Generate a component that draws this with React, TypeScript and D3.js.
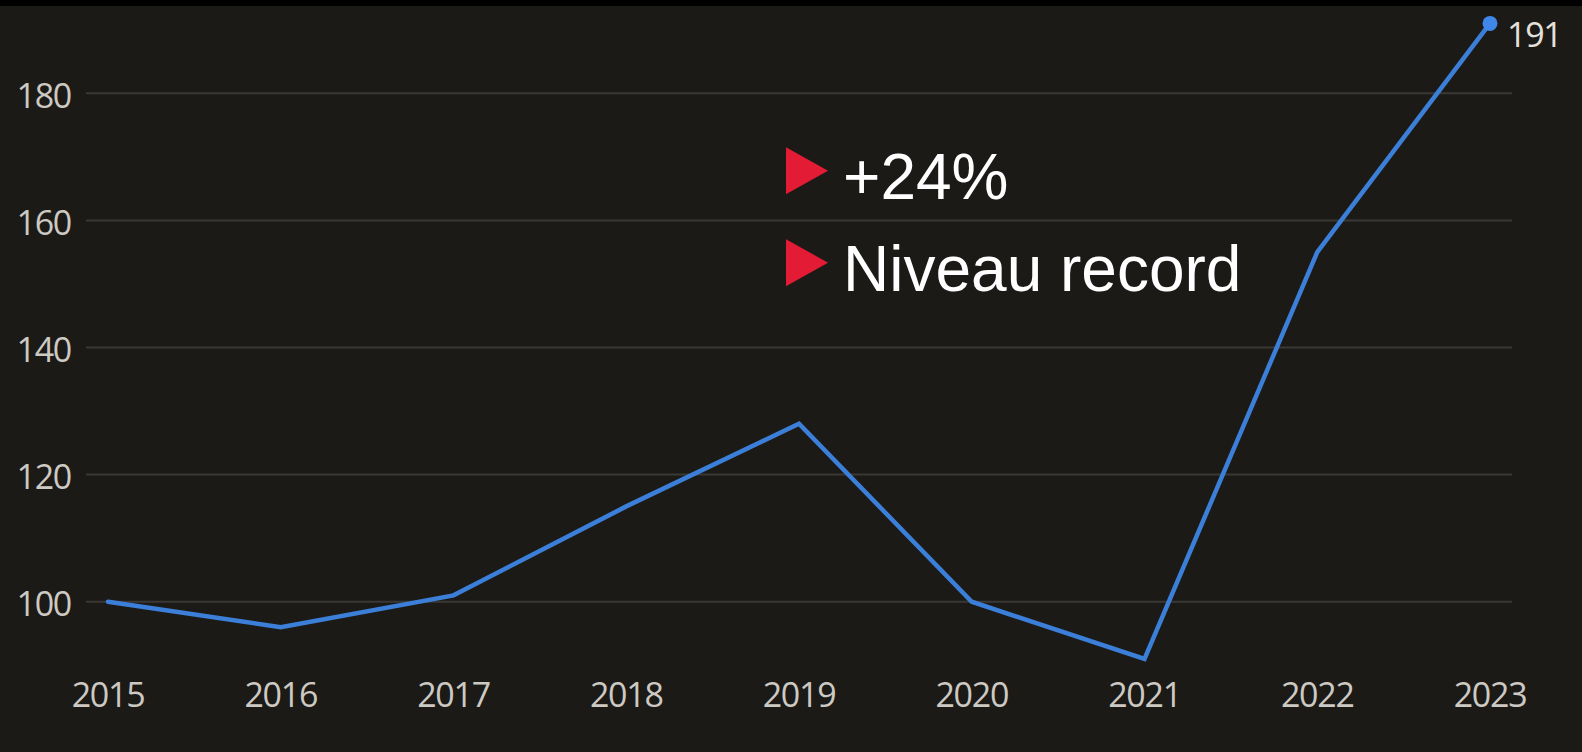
import React from "react";
import * as d3 from "d3";

const years = ["2015", "2016", "2017", "2018", "2019", "2020", "2021", "2022", "2023"];
const values = [100, 96, 101, 115, 128, 100, 91, 155, 191];
const yTicks = [100, 120, 140, 160, 180];
const notes = ["+24%", "Niveau record"];

const W = 1582;
const H = 752;

export default function App() {
  const x = d3.scalePoint<string>().domain(years).range([108, 1490]);
  const y = d3.scaleLinear().domain([100, 180]).range([601.7, 93.3]);
  const line = d3
    .line<number>()
    .x((_, i) => x(years[i]) as number)
    .y((d) => y(d));
  const lastI = values.length - 1;
  const lx = x(years[lastI]) as number;
  const ly = y(values[lastI]);
  const numFont = "'Open Sans', 'Noto Sans', sans-serif";
  return (
    <div style={{ position: "absolute", left: 0, top: 0, width: W, height: H }}>
      <svg width={W} height={H} style={{ display: "block" }}>
        <rect x={0} y={0} width={W} height={H} fill="#1c1a17" />
        <rect x={0} y={0} width={W} height={6} fill="#000000" />
        {yTicks.map((t) => (
          <g key={t}>
            <line x1={86} x2={1512} y1={y(t)} y2={y(t)} stroke="#3a3834" strokeWidth={2} />
            <text
              x={71}
              y={y(t) + 14.5}
              textAnchor="end"
              fill="#cdc9c3"
              fontFamily={numFont}
              fontWeight={400}
              fontSize={34}
              letterSpacing={-1.3}
            >
              {t}
            </text>
          </g>
        ))}
        {years.map((yr) => (
          <text
            key={yr}
            x={x(yr) as number}
            y={707}
            textAnchor="middle"
            fill="#cdc9c3"
            fontFamily={numFont}
            fontWeight={400}
            fontSize={34}
            letterSpacing={-1.3}
          >
            {yr}
          </text>
        ))}
        <path
          d={line(values) || ""}
          fill="none"
          stroke="#3b7fd9"
          strokeWidth={4.5}
          strokeLinejoin="miter"
          strokeLinecap="round"
        />
        <circle cx={lx} cy={ly} r={7.5} fill="#3f87e8" />
        <text
          x={lx + 17}
          y={ly + 24}
          fill="#e4e1dc"
          fontFamily={numFont}
          fontWeight={400}
          fontSize={34}
          letterSpacing={-1.3}
        >
          {values[lastI]}
        </text>
        {notes.map((n, i) => {
          const cy = 170.7 + i * 92;
          return (
            <g key={n}>
              <path
                d={`M786,${cy - 23.5} L828,${cy} L786,${cy + 23.5} Z`}
                fill="#e31b35"
              />
              <text
                x={843}
                y={cy + 28.5}
                fill="#ffffff"
                fontFamily="'Liberation Sans', Arial, sans-serif"
                fontSize={64}
              >
                {n}
              </text>
            </g>
          );
        })}
      </svg>
    </div>
  );
}
